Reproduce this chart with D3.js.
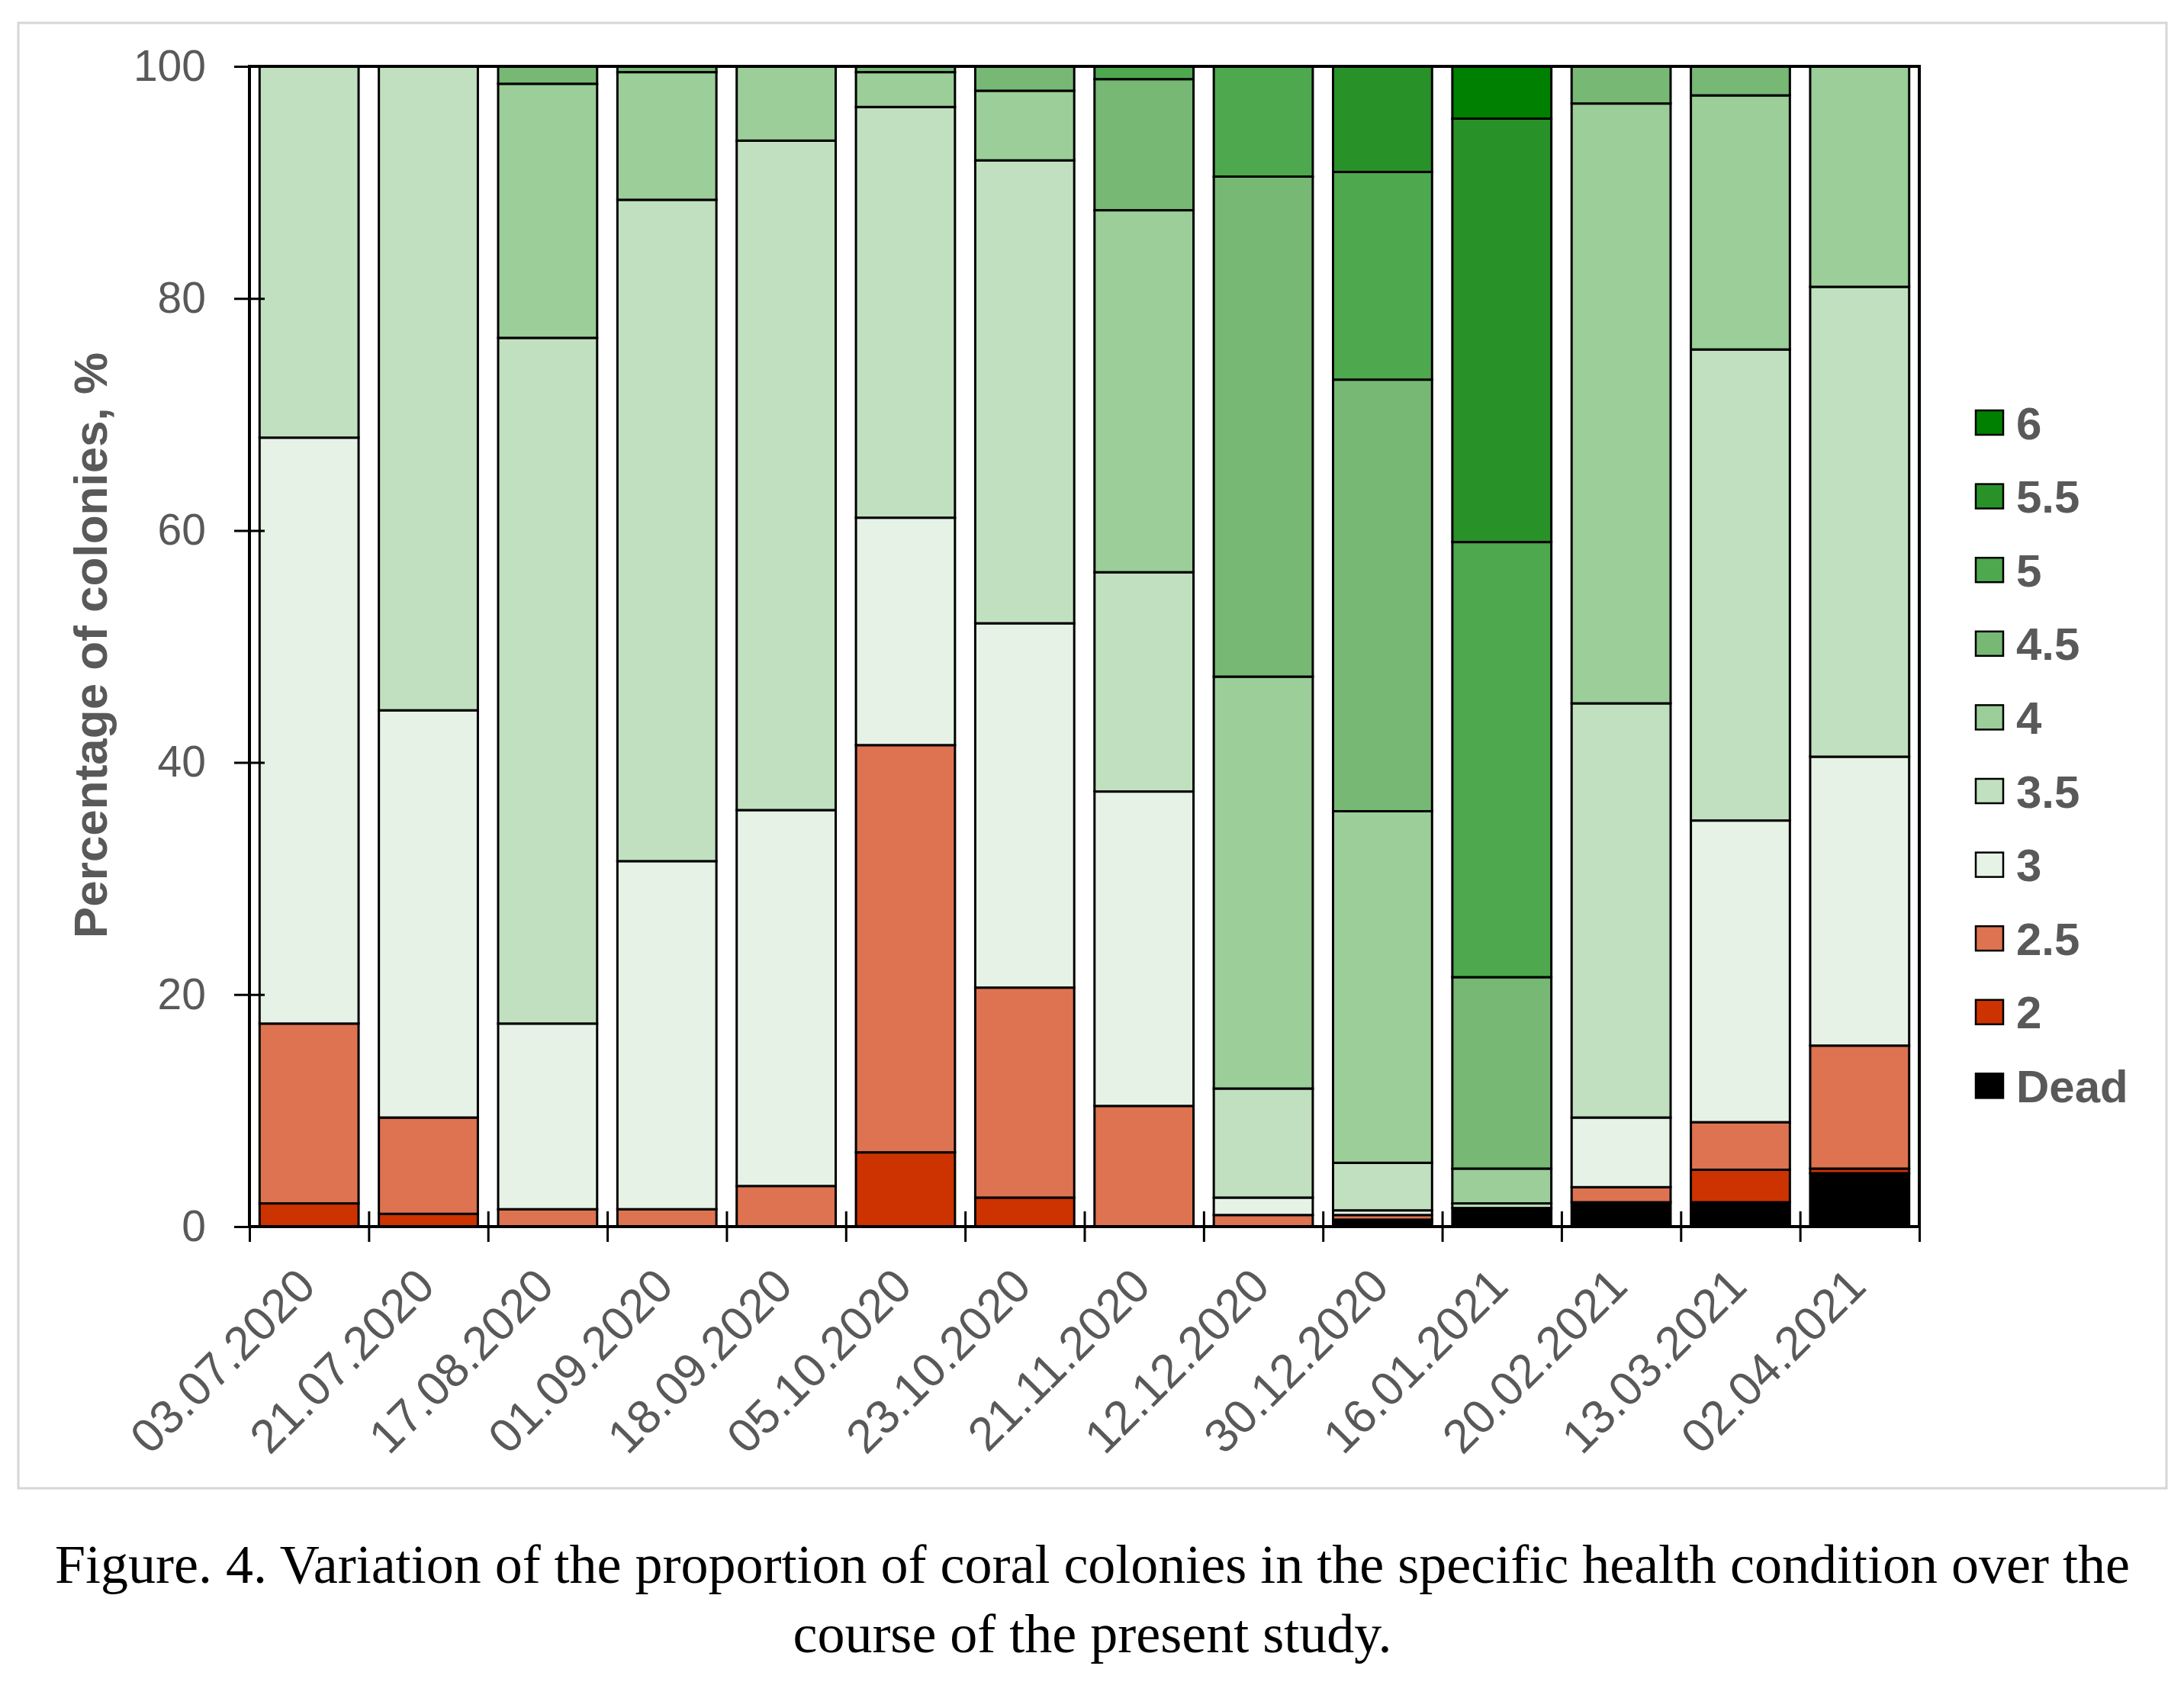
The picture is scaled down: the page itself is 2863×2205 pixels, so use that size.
<!DOCTYPE html>
<html>
<head>
<meta charset="utf-8">
<script src="https://cdn.jsdelivr.net/npm/d3@7"></script>
<style>
body { margin: 0; background: #fff; }
</style>
</head>
<body>
<svg id="chart" width="2863" height="2205"></svg>
<script>
var dates = ["03.07.2020", "21.07.2020", "17.08.2020", "01.09.2020", "18.09.2020", "05.10.2020", "23.10.2020",
             "21.11.2020", "12.12.2020", "30.12.2020", "16.01.2021", "20.02.2021", "13.03.2021", "02.04.2021"];
var conditions = ["Dead", "2", "2.5", "3", "3.5", "4", "4.5", "5", "5.5", "6"];

// percent of colonies per condition, one value per survey date
var dead = [0, 0, 0, 0, 0, 0, 0, 0, 0, 0.4, 1.6, 2.1, 2.1, 4.6];
var c2 = [2.0, 1.1, 0, 0, 0, 6.4, 2.5, 0, 0, 0.2, 0, 0, 2.8, 0.4];
var c25 = [15.5, 8.3, 1.5, 1.5, 3.5, 35.1, 18.1, 10.4, 1.0, 0.4, 0, 1.3, 4.1, 10.6];
var c3 = [50.5, 35.1, 16.0, 30.0, 32.4, 19.6, 31.4, 27.1, 1.5, 0.4, 0, 6.0, 26.0, 24.9];
var c35 = [32.0, 55.5, 59.1, 57.0, 57.7, 35.4, 39.9, 18.9, 9.4, 4.1, 0.4, 35.7, 40.6, 40.5];
var c4 = [0, 0, 21.9, 11.0, 6.4, 3.0, 6.0, 31.2, 35.5, 30.3, 3.0, 51.7, 21.9, 19.0];
var c45 = [0, 0, 1.5, 0.5, 0, 0.5, 2.1, 11.3, 43.1, 37.2, 16.5, 3.2, 2.5, 0];
var c5 = [0, 0, 0, 0, 0, 0, 0, 1.1, 9.5, 17.9, 37.5, 0, 0, 0];
var c55 = [0, 0, 0, 0, 0, 0, 0, 0, 0, 9.1, 36.5, 0, 0, 0];
var c6 = [0, 0, 0, 0, 0, 0, 0, 0, 0, 0, 4.5, 0, 0, 0];

var yTicks = [0, 20, 40, 60, 80, 100];
var colors = ["#000000", "#cc3300", "#dd7350", "#e6f2e5", "#c1e0bf", "#9bce98", "#76b874", "#4ea84e", "#289228", "#008000"];

var seriesValues = [dead, c2, c25, c3, c35, c4, c45, c5, c55, c6];
var rows = dates.map(function(d, i) {
    var row = {date: d};
    conditions.forEach(function(k, j) { row[k] = seriesValues[j][i]; });
    return row;
});

var svg = d3.select("#chart");
var plotLeft = 327, plotRight = 2516, plotTop = 87, plotBottom = 1608;
var font = "'Liberation Sans', Arial, sans-serif";
var grey = "#595959";

// outer figure border
svg.append("rect")
    .attr("x", 24).attr("y", 30)
    .attr("width", 2816).attr("height", 1921)
    .attr("fill", "none")
    .attr("stroke", "#d6d6d6")
    .attr("stroke-width", 3);

var x = d3.scaleBand().domain(dates).range([plotLeft, plotRight]).paddingInner(0.17).paddingOuter(0.085);
var y = d3.scaleLinear().domain([0, 100]).range([plotBottom, plotTop]);
var color = d3.scaleOrdinal().domain(conditions).range(colors);

var stacked = d3.stack().keys(conditions)(rows);

var layer = svg.append("g").selectAll("g")
    .data(stacked)
    .enter()
    .append("g")
    .attr("fill", function(d) { return color(d.key); });

layer.selectAll("rect")
    .data(function(d) { return d.filter(function(s) { return s[1] - s[0] > 0; }); })
    .enter()
    .append("rect")
    .attr("x", function(d) { return x(d.data.date); })
    .attr("width", x.bandwidth())
    .attr("y", function(d) { return y(d[1]); })
    .attr("height", function(d) { return y(d[0]) - y(d[1]); })
    .attr("stroke", "#000")
    .attr("stroke-width", 3);

// plot frame
svg.append("rect")
    .attr("x", plotLeft).attr("y", plotTop)
    .attr("width", plotRight - plotLeft).attr("height", plotBottom - plotTop)
    .attr("fill", "none")
    .attr("stroke", "#000")
    .attr("stroke-width", 4);

var yAxis = svg.append("g")
    .attr("transform", "translate(" + plotLeft + ",0)")
    .call(d3.axisLeft(y).tickValues(yTicks).tickSize(20).tickPadding(37));
yAxis.select(".domain").remove();
yAxis.selectAll(".tick line").attr("x1", 20).attr("stroke", "#000").attr("stroke-width", 3);
yAxis.selectAll(".tick text")
    .attr("fill", grey)
    .style("font-family", font)
    .style("font-size", "57px");

// x ticks sit on the category boundaries
var xEdge = d3.scaleLinear().domain([0, dates.length]).range([plotLeft, plotRight]);
var xAxis = svg.append("g")
    .attr("transform", "translate(0," + plotBottom + ")")
    .call(d3.axisBottom(xEdge).tickValues(d3.range(dates.length + 1)).tickSize(20).tickFormat(""));
xAxis.select(".domain").remove();
xAxis.selectAll(".tick line").attr("y1", -20).attr("stroke", "#000").attr("stroke-width", 3);

svg.append("g").selectAll("text")
    .data(dates)
    .enter()
    .append("text")
    .attr("transform", function(d) {
        return "translate(" + (x(d) + x.bandwidth() / 2 - 4) + "," + 1674 + ") rotate(-45)";
    })
    .attr("text-anchor", "end")
    .attr("dy", "0.35em")
    .attr("fill", grey)
    .style("font-family", font)
    .style("font-size", "62px")
    .text(function(d) { return d; });

svg.append("text")
    .attr("transform", "translate(118,846) rotate(-90)")
    .attr("text-anchor", "middle")
    .attr("dy", "0.35em")
    .attr("fill", grey)
    .style("font-family", font)
    .style("font-size", "62px")
    .style("font-weight", "bold")
    .text("Percentage of colonies, %");

var legend = svg.append("g").selectAll("g")
    .data(conditions.slice().reverse())
    .enter()
    .append("g")
    .attr("transform", function(d, i) { return "translate(2590," + (554 + i * 96.6) + ")"; });

legend.append("rect")
    .attr("x", 0).attr("y", -16)
    .attr("width", 36).attr("height", 32)
    .attr("fill", function(d) { return color(d); })
    .attr("stroke", "#000")
    .attr("stroke-width", 2.5);

legend.append("text")
    .attr("x", 53)
    .attr("dy", "0.36em")
    .attr("fill", grey)
    .style("font-family", font)
    .style("font-size", "60px")
    .style("font-weight", "bold")
    .text(function(d) { return d; });

var caption = svg.append("g")
    .attr("fill", "#000")
    .style("font-family", "'Liberation Serif', 'Times New Roman', serif")
    .style("font-size", "72px")
    .attr("text-anchor", "middle");
caption.append("text").attr("x", 1432).attr("y", 2075)
    .text("Figure. 4. Variation of the proportion of coral colonies in the specific health condition over the");
caption.append("text").attr("x", 1432).attr("y", 2166)
    .text("course of the present study.");
</script>
</body>
</html>
